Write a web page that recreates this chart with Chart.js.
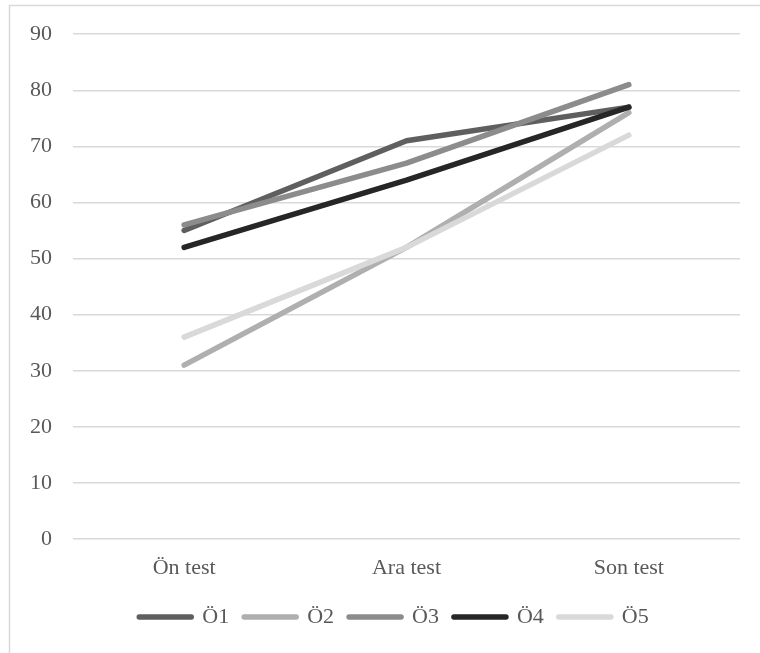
<!DOCTYPE html>
<html>
<head>
<meta charset="utf-8">
<script src="https://cdn.jsdelivr.net/npm/chart.js@4.4.1/dist/chart.umd.min.js"></script>
<style>
  html, body { margin: 0; padding: 0; background: #fff; }
  #wrap { width: 760px; height: 653px; }
</style>
</head>
<body>
<div id="wrap"><canvas id="chart" width="760" height="653"></canvas></div>
<script>
// categories and series
const categories = ['Ön test', 'Ara test', 'Son test'];
const seriesNames = ['Ö1', 'Ö2', 'Ö3', 'Ö4', 'Ö5'];
const o1 = [55, 71, 77];
const o2 = [31, 52, 76];
const o3 = [56, 67, 81];
const o4 = [52, 64, 77];
const o5 = [36, 52, 72];
const yTicks = [0, 10, 20, 30, 40, 50, 60, 70, 80, 90];

const seriesValues = [o1, o2, o3, o4, o5];
const seriesColors = ['#5f5f5f', '#afafaf', '#8c8c8c', '#262626', '#d9d9d9'];
const textColor = '#595959';
const gridColor = '#d9d9d9';

// outer chart border (thin grey frame like Excel) + nudge legend to the right
const frame = {
    id: 'frame',
    afterLayout(chart) {
        if (chart.legend) {
            chart.legend.left += 24;
            chart.legend.right += 24;
        }
    },
    beforeDraw(chart) {
        const c = chart.ctx;
        c.save();
        c.fillStyle = '#fff';
        c.fillRect(0, 0, chart.width, chart.height);
        c.strokeStyle = gridColor;
        c.lineWidth = 1.5;
        c.strokeRect(9.5, 5.5, chart.width + 20, chart.height + 20);
        c.restore();
    }
};

Chart.defaults.font.family = "'Liberation Serif', 'Times New Roman', serif";
Chart.defaults.font.size = 22;
Chart.defaults.color = textColor;

new Chart(document.getElementById('chart'), {
    type: 'line',
    data: {
        labels: categories,
        datasets: seriesValues.map((vals, i) => ({
            label: seriesNames[i],
            data: vals,
            borderColor: seriesColors[i],
            backgroundColor: seriesColors[i],
            borderWidth: 5.5,
            borderCapStyle: 'round',
            borderJoinStyle: 'round',
            pointRadius: 0,
            tension: 0,
            order: seriesValues.length - i
        }))
    },
    options: {
        responsive: false,
        animation: false,
        layout: { padding: { top: 33, right: 20, bottom: 15, left: 0 } },
        plugins: {
            tooltip: { enabled: false },
            legend: {
                position: 'bottom',
                labels: {
                    usePointStyle: true,
                    pointStyle: 'line',
                    pointStyleWidth: 52,
                    padding: 15,
                    color: textColor,
                    sort: (a, b) => a.datasetIndex - b.datasetIndex,
                    generateLabels: (chart) => {
                        const items = Chart.defaults.plugins.legend.labels.generateLabels(chart);
                        items.forEach(it => {
                            it.lineCap = 'round';
                            it.lineWidth = 5.5;
                            it.strokeStyle = seriesColors[it.datasetIndex];
                        });
                        return items;
                    }
                }
            }
        },
        scales: {
            x: {
                offset: true,
                grid: { display: false, drawTicks: false },
                border: { display: false },
                ticks: { padding: 16, color: textColor },
                afterFit: (s) => { s.height = 52; }
            },
            y: {
                min: 0,
                max: 90,
                afterBuildTicks: (s) => { s.ticks = yTicks.map(v => ({ value: v })); },
                grid: { color: gridColor, lineWidth: 1.5, drawTicks: false },
                border: { display: false },
                ticks: { padding: 21, color: textColor },
                afterFit: (s) => { s.width = 73; }
            }
        }
    },
    plugins: [frame]
});
</script>
</body>
</html>
